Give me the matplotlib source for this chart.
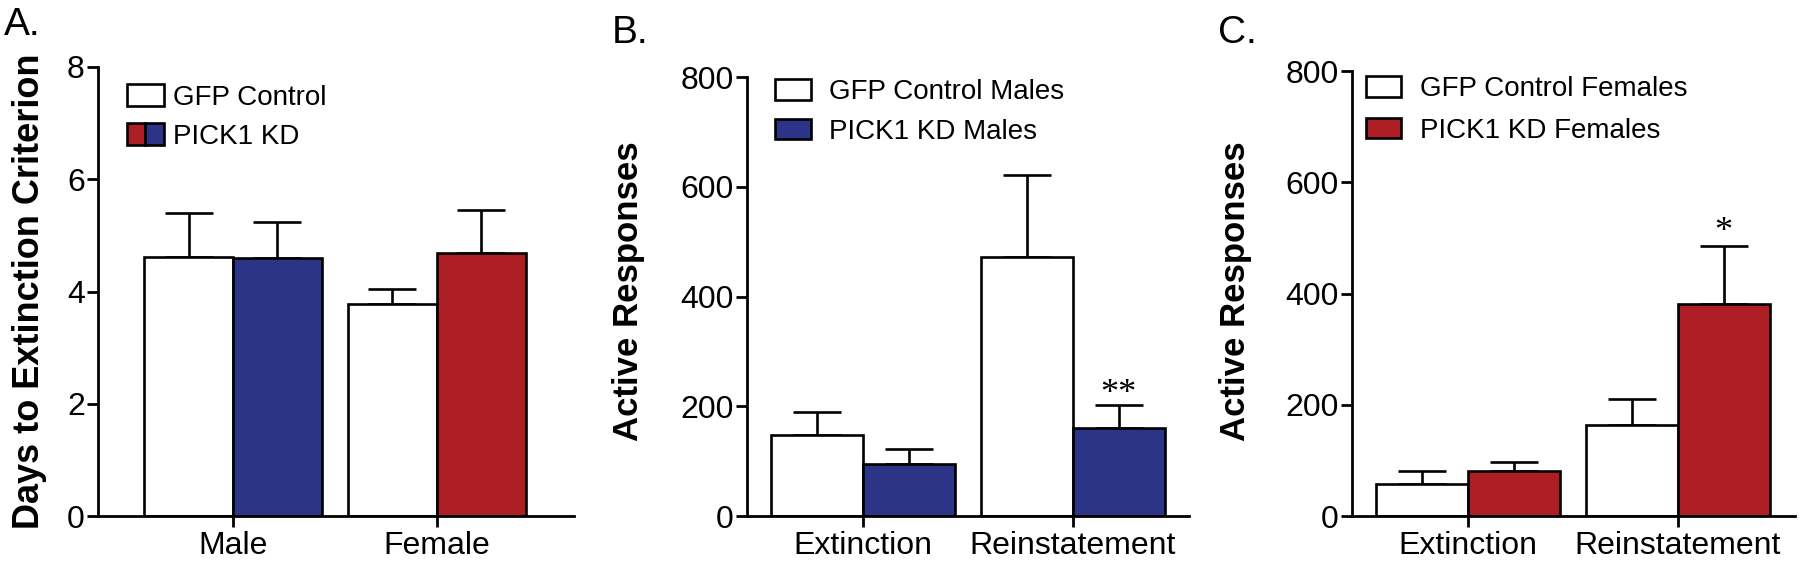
import numpy as np
import matplotlib.pyplot as plt
from matplotlib.patches import Patch
from matplotlib.legend_handler import HandlerTuple

plt.rcParams['font.family'] = ['Liberation Sans', 'DejaVu Sans']

AZUL = '#2b3486'
ROJO = '#ae1f25'

# Panel A: dias hasta criterio de extincion
sexos = ['Male', 'Female']
dias_gfp = [4.62, 3.78]
dias_gfp_sem = [0.78, 0.26]
dias_kd = [4.60, 4.69]
dias_kd_sem = [0.64, 0.77]
colores_kd_a = [AZUL, ROJO]

# Panel B: machos
fases = ['Extinction', 'Reinstatement']
machos_gfp = [147, 472]
machos_gfp_sem = [43, 149]
machos_kd = [95, 161]
machos_kd_sem = [28, 42]

# Panel C: hembras
hembras_gfp = [58, 163]
hembras_gfp_sem = [23, 47]
hembras_kd = [81, 381]
hembras_kd_sem = [16, 105]

ANCHO = 0.436
LW = 1.9
W, H = 1800, 562


def caja(x0, y0, x1, y1):
    # pixeles -> fraccion de figura
    return [x0 / W, 1 - y1 / H, (x1 - x0) / W, (y1 - y0) / H]


def barras(ax, cats, v1, e1, v2, e2, colores2, xlim, ylim, yticks):
    x = np.arange(len(cats))
    ax.bar(x - ANCHO / 2, v1, ANCHO, color='white', edgecolor='black', linewidth=LW, zorder=2)
    ax.bar(x + ANCHO / 2, v2, ANCHO, color=colores2, edgecolor='black', linewidth=LW, zorder=2)
    for xs, v, e in [(x - ANCHO / 2, v1, e1), (x + ANCHO / 2, v2, e2)]:
        ax.errorbar(xs, v, yerr=[[0] * len(v), e], fmt='none', ecolor='black',
                    elinewidth=LW, capsize=17, capthick=LW, zorder=1)
    ax.set_xlim(*xlim)
    ax.set_ylim(*ylim)
    ax.set_yticks(yticks)
    ax.set_xticks(x)
    ax.set_xticklabels(cats)
    for s in ['top', 'right']:
        ax.spines[s].set_visible(False)
    for s in ['left', 'bottom']:
        ax.spines[s].set_linewidth(2)
    ax.tick_params(axis='both', direction='out', length=8, width=2)
    ax.tick_params(axis='y', labelsize=23, pad=1.5)
    ax.tick_params(axis='x', labelsize=23, pad=3)


def leyenda(ax, handles, labels, x, y, hl, hh, htp, ls, **kw):
    ax.legend(handles, labels, loc='upper left', bbox_to_anchor=(x / W, 1 - y / H),
              bbox_transform=fig.transFigure, frameon=False, fontsize=20,
              borderpad=0, borderaxespad=0, handlelength=hl, handleheight=hh,
              handletextpad=htp, labelspacing=ls, **kw)


fig = plt.figure(figsize=(18, 5.62), dpi=100)

# Panel A
axA = fig.add_axes(caja(98, 67, 574, 516))
barras(axA, sexos, dias_gfp, dias_gfp_sem, dias_kd, dias_kd_sem, colores_kd_a,
       (-0.662, 1.672), (0, 8), [0, 2, 4, 6, 8])
axA.set_ylabel('Days to Extinction Criterion', fontsize=26, fontweight='bold', va='center')
axA.yaxis.set_label_coords(-0.143, 0.501)
hA = [Patch(facecolor='white', edgecolor='black', linewidth=LW),
      (Patch(facecolor=ROJO, edgecolor='black', linewidth=LW),
       Patch(facecolor=AZUL, edgecolor='black', linewidth=LW))]
leyenda(axA, hA, ['GFP Control', 'PICK1 KD'], 127, 84, 1.33, 0.86, 0.32, 0.43,
        handler_map={tuple: HandlerTuple(ndivide=None, pad=0)})

# Panel B
axB = fig.add_axes(caja(747, 77, 1189, 516))
barras(axB, fases, machos_gfp, machos_gfp_sem, machos_kd, machos_kd_sem, AZUL,
       (-0.552, 1.552), (0, 800), [0, 200, 400, 600, 800])
axB.set_ylabel('Active Responses', fontsize=25, fontweight='bold', va='center')
axB.yaxis.set_label_coords(-0.268, 0.511)
hB = [Patch(facecolor='white', edgecolor='black', linewidth=LW),
      Patch(facecolor=AZUL, edgecolor='black', linewidth=LW)]
leyenda(axB, hB, ['GFP Control Males', 'PICK1 KD Males'], 775, 79, 1.3, 0.76, 0.65, 0.5)
axB.annotate('**', (1 + ANCHO / 2, machos_kd[1] + machos_kd_sem[1]), xytext=(0, 1),
             textcoords='offset points', ha='center', va='baseline', fontsize=26,
             family=['Liberation Serif', 'DejaVu Serif'])

# Panel C
axC = fig.add_axes(caja(1352, 71, 1795, 516))
barras(axC, fases, hembras_gfp, hembras_gfp_sem, hembras_kd, hembras_kd_sem, ROJO,
       (-0.552, 1.557), (0, 800), [0, 200, 400, 600, 800])
axC.set_ylabel('Active Responses', fontsize=25, fontweight='bold', va='center')
axC.yaxis.set_label_coords(-0.264, 0.506)
hC = [Patch(facecolor='white', edgecolor='black', linewidth=LW),
      Patch(facecolor=ROJO, edgecolor='black', linewidth=LW)]
leyenda(axC, hC, ['GFP Control Females', 'PICK1 KD Females'], 1366, 76, 1.26, 0.76, 0.68, 0.57)
axC.annotate('*', (1 + ANCHO / 2, hembras_kd[1] + hembras_kd_sem[1]), xytext=(0, 3),
             textcoords='offset points', ha='center', va='baseline', fontsize=26,
             family=['Liberation Serif', 'DejaVu Serif'])

# Letras de panel
for x, y, t in [(4, 35, 'A.'), (612, 43, 'B.'), (1218, 43, 'C.')]:
    fig.text(x / W, 1 - y / H, t, fontsize=28, ha='left', va='baseline')

fig.savefig('out.png', dpi=100)
